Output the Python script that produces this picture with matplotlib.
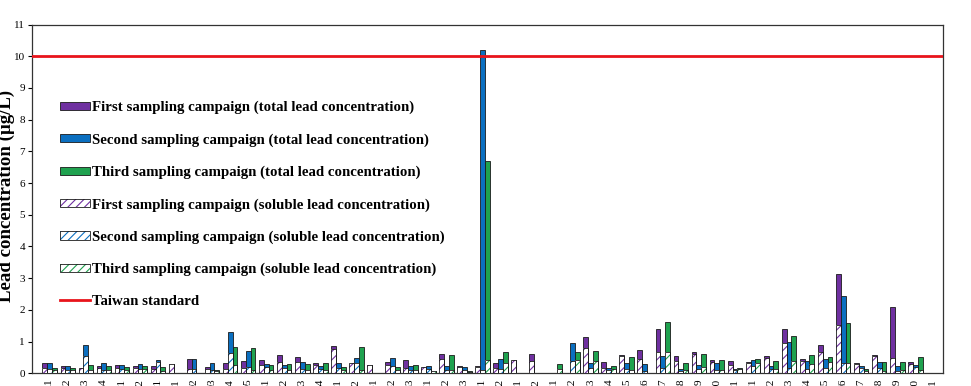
import numpy as np
import matplotlib
matplotlib.use("Agg")
import matplotlib.pyplot as plt
from matplotlib.patches import Patch
from matplotlib.lines import Line2D

plt.rcParams['font.family'] = ['Liberation Serif', 'DejaVu Serif']
plt.rcParams['hatch.linewidth'] = 0.8

# sampling sites (tick labels, mostly cut off at the bottom of the figure)
sites = ["A1", "A2", "A3", "A4", "B1", "B2", "C1", "D1", "D2", "D3",
         "D4", "D5", "E1", "E2", "E3", "E4", "F1", "F2", "G1", "G2",
         "G3", "H1", "H2", "H3", "I1", "I2", "J1", "J2", "K1", "K2",
         "K3", "K4", "K5", "K6", "K7", "K8", "K9", "K10", "K11", "M1",
         "M2", "M3", "M4", "M5", "M6", "M7", "M8", "M9", "M10", "M11"]

# total lead concentration (ug/L)
first_total = [0.33, 0.23, 0.16, 0.22, 0.25, 0.23, 0.22, 0.28, 0.45, 0.21,
               0.34, 0.39, 0.42, 0.58, 0.51, 0.32, 0.85, 0.31, 0.25, 0.36,
               0.43, 0.20, 0.60, 0.23, 0.23, 0.32, 0.42, 0.60, 0.00, 0.00,
               1.16, 0.35, 0.57, 0.75, 1.39, 0.56, 0.68, 0.42, 0.38, 0.35,
               0.53, 1.40, 0.44, 0.89, 3.14, 0.32, 0.58, 2.09, 0.36, 0.00]
second_total = [0.33, 0.23, 0.89, 0.34, 0.25, 0.29, 0.43, 0.00, 0.46, 0.33,
                1.29, 0.70, 0.28, 0.25, 0.37, 0.23, 0.34, 0.47, 0.00, 0.48,
                0.23, 0.23, 0.23, 0.20, 10.20, 0.44, 0.00, 0.00, 0.00, 0.97,
                0.33, 0.16, 0.32, 0.30, 0.55, 0.13, 0.26, 0.32, 0.13, 0.41,
                0.23, 1.00, 0.38, 0.46, 2.44, 0.23, 0.35, 0.23, 0.25, 0.00]
third_total = [0.17, 0.18, 0.26, 0.23, 0.20, 0.24, 0.19, 0.00, 0.00, 0.10,
               0.82, 0.81, 0.26, 0.30, 0.28, 0.32, 0.19, 0.82, 0.00, 0.21,
               0.27, 0.08, 0.57, 0.07, 6.69, 0.68, 0.00, 0.00, 0.28, 0.68,
               0.71, 0.24, 0.50, 0.00, 1.62, 0.34, 0.61, 0.41, 0.17, 0.45,
               0.39, 1.17, 0.57, 0.50, 1.59, 0.15, 0.36, 0.36, 0.52, 0.00]

# soluble lead concentration (ug/L)
first_sol = [0.16, 0.16, 0.16, 0.16, 0.18, 0.17, 0.15, 0.28, 0.14, 0.14,
             0.15, 0.16, 0.27, 0.37, 0.37, 0.26, 0.76, 0.31, 0.25, 0.26,
             0.17, 0.19, 0.44, 0.20, 0.21, 0.16, 0.42, 0.40, 0.00, 0.00,
             0.79, 0.17, 0.53, 0.46, 0.67, 0.39, 0.60, 0.36, 0.25, 0.32,
             0.47, 0.95, 0.40, 0.68, 1.52, 0.28, 0.53, 0.47, 0.30, 0.00]
second_sol = [0.14, 0.10, 0.55, 0.10, 0.13, 0.14, 0.35, 0.00, 0.13, 0.10,
              0.65, 0.21, 0.21, 0.16, 0.14, 0.13, 0.18, 0.33, 0.00, 0.22,
              0.10, 0.15, 0.10, 0.10, 0.09, 0.15, 0.00, 0.00, 0.00, 0.38,
              0.17, 0.10, 0.12, 0.07, 0.18, 0.07, 0.13, 0.10, 0.10, 0.23,
              0.13, 0.16, 0.13, 0.18, 0.32, 0.16, 0.16, 0.08, 0.21, 0.00]
third_sol = [0.10, 0.10, 0.10, 0.10, 0.10, 0.13, 0.08, 0.00, 0.00, 0.08,
             0.26, 0.09, 0.10, 0.10, 0.10, 0.10, 0.11, 0.10, 0.00, 0.10,
             0.10, 0.06, 0.10, 0.05, 0.42, 0.34, 0.00, 0.00, 0.14, 0.41,
             0.40, 0.13, 0.10, 0.00, 0.68, 0.10, 0.21, 0.10, 0.13, 0.32,
             0.13, 0.38, 0.28, 0.37, 0.32, 0.08, 0.07, 0.10, 0.10, 0.00]

taiwan_standard = 10

campaigns = ["First", "Second", "Third"]
colors = ["#6f30a0", "#0b6fc0", "#1fa24f"]
totals = [first_total, second_total, third_total]
solubles = [first_sol, second_sol, third_sol]

fig = plt.figure(figsize=(9.71, 3.86), dpi=100)
ax = fig.add_axes([32 / 971, 1 - 373.3 / 386, 911 / 971, (373.3 - 24.5) / 386])

x = np.arange(len(sites))
w = 0.27
for k in range(3):
    pos = x + (k - 1) * w
    tot = np.array(totals[k])
    sol = np.array(solubles[k])
    m = tot > 0
    ax.bar(pos[m], tot[m], w, color=colors[k], edgecolor="#1a1a1a",
           linewidth=0.6, zorder=2)
    m = sol > 0
    ax.bar(pos[m], sol[m], w, facecolor="white", edgecolor=colors[k],
           hatch="////", linewidth=0, zorder=3)
    ax.bar(pos[m], sol[m], w, fill=False, edgecolor="#1a1a1a",
           linewidth=0.6, zorder=3.1)

ax.axhline(taiwan_standard, color="#e8141b", linewidth=2, zorder=4)

ax.set_xlim(-0.987, 49.54)
ax.set_ylim(0, 11)
ax.set_yticks(range(0, 12))
ax.tick_params(axis="y", labelsize=8, length=3, width=0.8, pad=2)
ax.set_xticks(x)
ax.set_xticklabels(sites, rotation=90, fontsize=8)
ax.tick_params(axis="x", length=0, pad=4)
for s in ax.spines.values():
    s.set_color("#333333")
    s.set_linewidth(0.9)

fig.text(6 / 971, 1 - 196 / 386, "Lead concentration (\u03bcg/L)", rotation=90,
         ha="center", va="center", fontsize=13.6, fontweight="bold")

handles = []
labels = []
for k in range(3):
    handles.append(Patch(facecolor=colors[k], edgecolor="#1a1a1a", linewidth=0.6))
    labels.append(f"{campaigns[k]} sampling campaign (total lead concentration)")
for k in range(3):
    handles.append((Patch(facecolor="white", edgecolor=colors[k], hatch="////", linewidth=0),
                    Patch(fill=False, edgecolor="#1a1a1a", linewidth=0.6)))
    labels.append(f"{campaigns[k]} sampling campaign (soluble lead concentration)")
handles.append(Line2D([], [], color="#e8141b", linewidth=2))
labels.append("Taiwan standard")

ax.legend(handles, labels, loc="upper left",
          bbox_to_anchor=((60 - 32) / 911, (373.3 - 101) / 348.8),
          frameon=False, borderpad=0, borderaxespad=0,
          prop={"weight": "bold", "size": 10.7},
          handlelength=2.02, handleheight=0.47, handletextpad=0.12,
          labelspacing=1.27)

fig.savefig("out.png", dpi=100)
